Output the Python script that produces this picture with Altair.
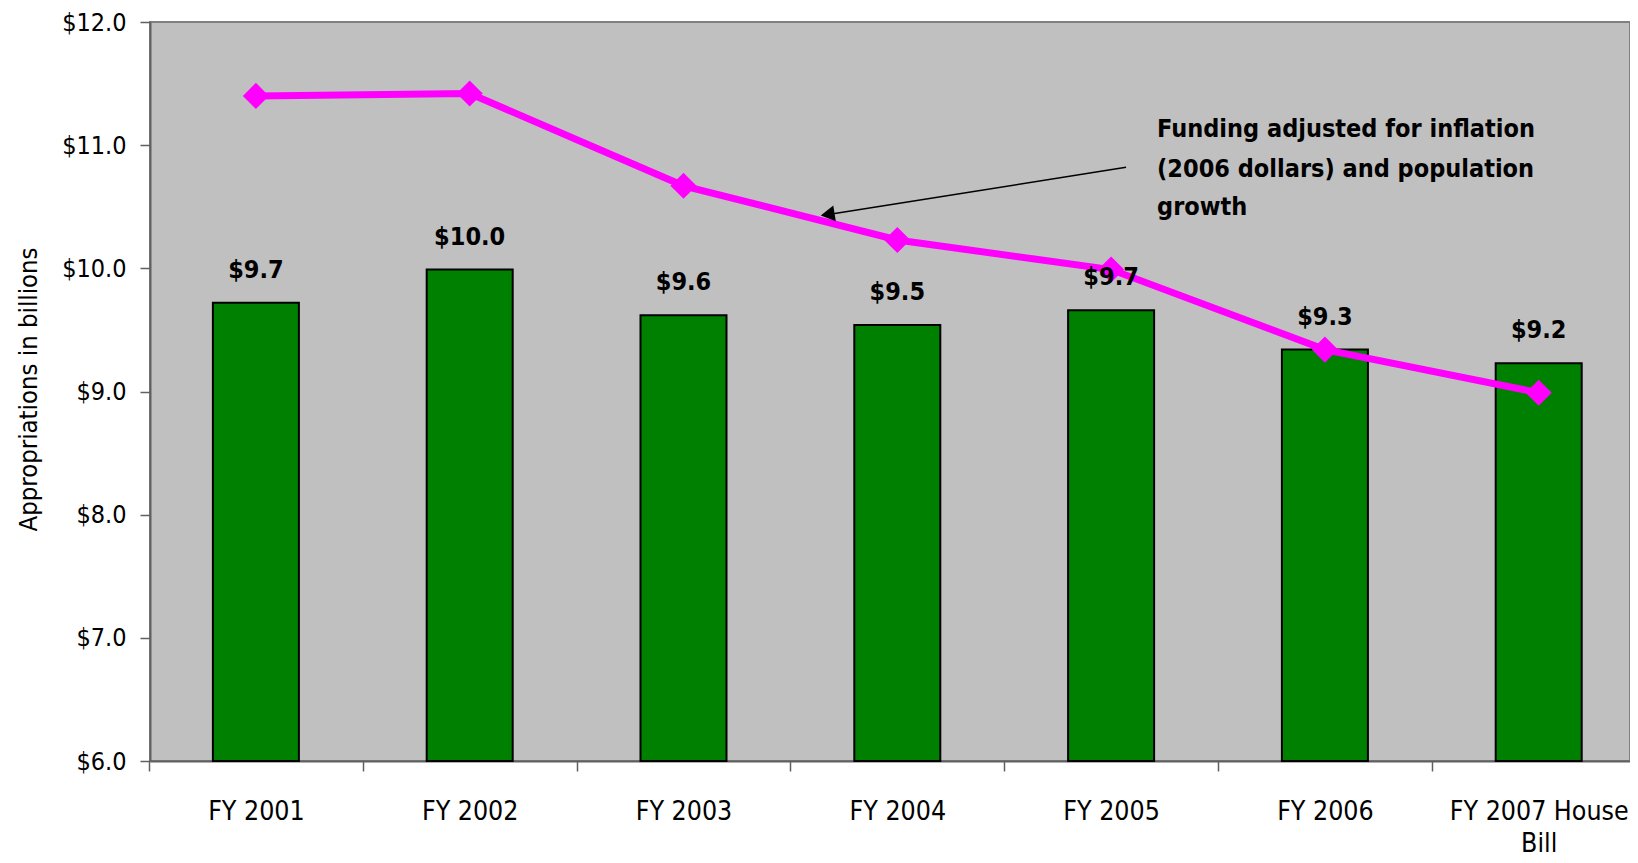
import json
import altair as alt
import pandas as pd

# ---- data ----
years = ["FY 2001", "FY 2002", "FY 2003", "FY 2004", "FY 2005", "FY 2006", "FY 2007 House Bill"]
tick_labels = [["FY 2001"], ["FY 2002"], ["FY 2003"], ["FY 2004"], ["FY 2005"], ["FY 2006"],
               ["FY 2007 House", "Bill"]]
appropriations = [9.72, 9.99, 9.62, 9.54, 9.66, 9.34, 9.23]
adjusted = [11.40, 11.42, 10.67, 10.23, 9.99, 9.34, 8.99]
y_ticks = [6, 7, 8, 9, 10, 11, 12]
note_lines = ["Funding adjusted for inflation", "(2006 dollars) and population", "growth"]

# annotation anchors (category units: category i spans [i, i+1]; dollars on y)
NOTE_X = 4.715
NOTE_Y = [11.13, 10.81, 10.50]
ARROW_FROM = (4.57, 10.82)
ARROW_TO = (3.185, 10.44)

FONT = "Liberation Sans Narrow, DejaVu Sans Condensed, Arial Narrow, sans-serif"

W = 1480                       # plot width in px (chart must not overflow the page)
X_DOMAIN = [0.0047, 6.927]     # visible slice of the category axis (last band runs off the edge)
STEP = W / (X_DOMAIN[1] - X_DOMAIN[0])
HALF = STEP / 2

df = pd.DataFrame({"year": years, "pos": [i + 0.5 for i in range(len(years))],
                   "value": appropriations, "adjusted": adjusted})
notes = pd.DataFrame({"line": note_lines, "x": [NOTE_X] * 3, "y": NOTE_Y})
arrow = pd.DataFrame({"x": [ARROW_FROM[0]], "y": [ARROW_FROM[1]],
                      "x2": [ARROW_TO[0]], "y2": [ARROW_TO[1]]})

yscale = alt.Scale(domain=[6, 12], zero=False, nice=False)
xscale = alt.Scale(domain=X_DOMAIN, zero=False, nice=False, padding=0)

xaxis = alt.Axis(title=None, values=[i + 0.5 for i in range(len(years))],
                 labelExpr=json.dumps(tick_labels) + "[floor(datum.value)]",
                 tickOffset=-HALF, labelOffset=HALF,
                 labelAngle=0, labelFont=FONT, labelFontSize=26.5, labelColor="black",
                 labelPadding=27, labelLineHeight=32, labelLimit=400, labelFlush=False,
                 labelOverlap=False, tickSize=10, tickColor="#606060", tickWidth=1.5,
                 domainColor="#606060", domainWidth=2, grid=False)
xq = alt.X("pos:Q", scale=xscale, axis=xaxis)
yq = alt.Y("value:Q", scale=yscale,
           axis=alt.Axis(title="Appropriations in billions", values=y_ticks, format="$.1f",
                         labelFont=FONT, labelFontSize=25, labelColor="black",
                         labelPadding=14, tickSize=10, tickColor="#606060", tickWidth=1.5,
                         domainColor="#606060", domainWidth=2, grid=False,
                         titleFont=FONT, titleFontSize=25.5, titleFontWeight="normal",
                         titleColor="black", titleX=-122, titleY=367, titleAngle=270,
                         titleAlign="center", titleBaseline="middle"))

base = alt.Chart(df)
bars = base.mark_bar(size=86, color="#008000", stroke="black", strokeWidth=2).encode(
    x=xq, y=yq, y2=alt.datum(6))
line = base.mark_line(color="#FF00FF", strokeWidth=7,
                      point=alt.OverlayMarkDef(shape="diamond", size=680, filled=True,
                                               color="#FF00FF", opacity=1)).encode(
    x=xq, y=alt.Y("adjusted:Q", scale=yscale))
labels = base.mark_text(dy=-33, font=FONT, fontSize=25, fontWeight="bold", color="black").encode(
    x=xq, y=alt.Y("value:Q", scale=yscale), text=alt.Text("value:Q", format="$.1f"))

note_text = alt.Chart(notes).mark_text(align="left", baseline="middle", font=FONT,
                                        fontSize=25, fontWeight="bold", color="black").encode(
    x=alt.X("x:Q", scale=xscale), y=alt.Y("y:Q", scale=yscale), text="line:N")
arrow_line = alt.Chart(arrow).mark_rule(color="black", strokeWidth=1.5).encode(
    x=alt.X("x:Q", scale=xscale), y=alt.Y("y:Q", scale=yscale), x2="x2:Q", y2="y2:Q")
arrow_head = alt.Chart(arrow).mark_point(shape="triangle", size=260, filled=True,
                                          color="black", opacity=1, angle=261).encode(
    x=alt.X("x2:Q", scale=xscale), y=alt.Y("y2:Q", scale=yscale))

chart = alt.layer(bars, line, labels, note_text, arrow_line, arrow_head).properties(
    width=W, height=739,
    autosize=alt.AutoSizeParams(type="none"),
    padding={"left": 142, "top": 14, "right": 0, "bottom": 94},
).configure_view(
    fill="#C0C0C0", stroke="#808080", strokeWidth=2
)

chart.save("out.html", embed_options={"renderer": "svg", "actions": False})
